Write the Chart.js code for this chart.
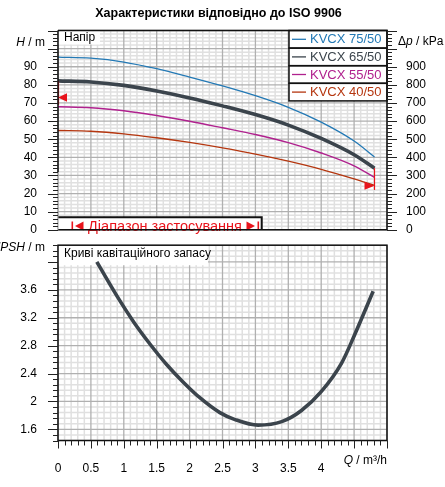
<!DOCTYPE html>
<html><head><meta charset="utf-8">
<script src="https://cdn.jsdelivr.net/npm/chart.js@4.4.1/dist/chart.umd.min.js"></script>
<style>
html,body{margin:0;padding:0;background:#fff;width:445px;height:487px;overflow:hidden;}
#wrap{position:relative;width:445px;height:487px;}
canvas{position:absolute;left:0;}
#c1{top:0}
#c2{top:225px}
</style></head>
<body><div id="wrap"><canvas id="c1" width="445" height="250"></canvas><canvas id="c2" width="445" height="262"></canvas></div>
<script>
// ---------- data ----------
const chartTitle = 'Характеристики відповідно до ISO 9906';
const seriesNames = ['KVCX 75/50', 'KVCX 65/50', 'KVCX 55/50', 'KVCX 40/50'];
const flowQ = [0, 0.5, 1.0, 1.5, 2.0, 2.5, 3.0, 3.5, 4.0, 4.5, 4.81];
const headKVCX75 = [95.3, 94.7, 92.6, 88.9, 84.3, 79.4, 74.0, 67.6, 59.4, 49.0, 40.2];
const headKVCX65 = [82.2, 81.6, 79.7, 76.6, 72.8, 68.4, 63.6, 57.8, 50.4, 41.4, 34.0];
const headKVCX55 = [67.9, 67.4, 65.7, 63.1, 59.9, 56.3, 52.6, 48.1, 42.4, 35.3, 28.9];
const headKVCX40 = [54.8, 54.4, 53.0, 50.8, 48.2, 45.2, 41.8, 37.9, 33.4, 28.1, 24.5];
const npshQ = [0.59, 0.89, 1.15, 1.40, 1.65, 1.90, 2.16, 2.46, 2.69, 3.04, 3.40, 3.70, 4.00, 4.31, 4.51, 4.79];
const npshM = [4.00, 3.52, 3.14, 2.82, 2.53, 2.28, 2.05, 1.84, 1.74, 1.66, 1.71, 1.87, 2.14, 2.55, 2.96, 3.58];
const headTicks = [0, 10, 20, 30, 40, 50, 60, 70, 80, 90];
const pressureTicks = [0, 100, 200, 300, 400, 500, 600, 700, 800, 900];
const npshTicks = [1.6, 2, 2.4, 2.8, 3.2, 3.6];
const flowTicks = [0, 0.5, 1, 1.5, 2, 2.5, 3, 3.5, 4];
// application range limits (Q, H)
const rangeStart = [0, 73];
const rangeEnd = [4.81, 24.3];
const rangeEndLine = [34.0, 22.0];

// ---------- style ----------
const FONT = "'Liberation Sans', Arial, sans-serif";
Chart.defaults.font.family = FONT;
Chart.defaults.font.size = 12;
Chart.defaults.color = '#000';
const colors = ['#2379b5', '#3b444c', '#b0218e', '#b5360f'];
const widths = [1.3, 3.6, 1.4, 1.3];
const RED = '#e8141c';
const GRID_MAJOR = '#b0b0b0', GRID_MINOR = '#e0e0e0';
const near = (a, b) => Math.abs(a - b) < 1e-6;
const isMajorX = v => near(v * 2, Math.round(v * 2));
const isMajorHead = v => near(v / 10, Math.round(v / 10));
const isMajorNpsh = v => near((v - 1.6) / 0.4, Math.round((v - 1.6) / 0.4));

function paintGrid(chart, xs, ys, majX, majY) {
  const ctx = chart.ctx, ca = chart.chartArea;
  ctx.save();
  [false, true].forEach(major => {
    ctx.strokeStyle = major ? GRID_MAJOR : GRID_MINOR;
    ctx.lineWidth = major ? 1.3 : 1.5;
    xs.ticks.forEach(t => {
      if (majX(t.value) !== major) return;
      const p = xs.getPixelForValue(t.value);
      ctx.beginPath(); ctx.moveTo(p, ca.top); ctx.lineTo(p, ca.bottom); ctx.stroke();
    });
    ys.ticks.forEach(t => {
      if (majY(t.value) !== major) return;
      const p = ys.getPixelForValue(t.value);
      ctx.beginPath(); ctx.moveTo(ca.left, p); ctx.lineTo(ca.right, p); ctx.stroke();
    });
  });
  ctx.restore();
}
function drawTicks(ctx, scale, side, isMajor, big, small) {
  ctx.save();
  ctx.strokeStyle = '#222'; ctx.lineWidth = 1;
  scale.ticks.forEach(t => {
    const p = Math.round(scale.getPixelForValue(t.value)) + 0.5;
    const len = isMajor(t.value) ? big : small;
    ctx.beginPath();
    if (side === 'left') { ctx.moveTo(scale.right - len, p); ctx.lineTo(scale.right, p); }
    else if (side === 'right') { ctx.moveTo(scale.left, p); ctx.lineTo(scale.left + len, p); }
    else { ctx.moveTo(p, scale.top); ctx.lineTo(p, scale.top + len); }
    ctx.stroke();
  });
  ctx.restore();
}
function mixedText(ctx, parts, x, y, align, size) {
  ctx.save();
  ctx.textBaseline = 'middle';
  ctx.fillStyle = '#000';
  const fonts = parts.map(p => (p[1] ? 'italic ' : '') + (size || 12) + 'px ' + FONT);
  let total = 0;
  parts.forEach((p, i) => { ctx.font = fonts[i]; total += ctx.measureText(p[0]).width; });
  let cx = align === 'right' ? x - total : x;
  ctx.textAlign = 'left';
  parts.forEach((p, i) => { ctx.font = fonts[i]; ctx.fillText(p[0], cx, y); cx += ctx.measureText(p[0]).width; });
  ctx.restore();
}
function tri(ctx, xTip, y, dir, w, h, color) {
  ctx.save(); ctx.fillStyle = color; ctx.beginPath();
  ctx.moveTo(xTip, y); ctx.lineTo(xTip - dir * w, y - h / 2); ctx.lineTo(xTip - dir * w, y + h / 2);
  ctx.closePath(); ctx.fill(); ctx.restore();
}

// ---------- top chart ----------
const headSeries = [headKVCX75, headKVCX65, headKVCX55, headKVCX40];
const decorTop = {
  id: 'decorTop',
  beforeDatasetsDraw(chart) {
    const ctx = chart.ctx, ca = chart.chartArea;
    paintGrid(chart, chart.scales.x, chart.scales.y, isMajorX, isMajorHead);
    ctx.save();
    ctx.fillStyle = '#fff';
    ctx.fillRect(ca.left, ca.top, 42, 14);
    ctx.fillStyle = '#000'; ctx.font = '12px ' + FONT; ctx.textBaseline = 'middle'; ctx.textAlign = 'left';
    ctx.fillText('Напір', ca.left + 6, ca.top + 7.5);
    ctx.restore();
  },
  afterDatasetsDraw(chart) {
    const {ctx, chartArea: ca, scales: {x, y}} = chart;
    ctx.save();
    ctx.strokeStyle = RED; ctx.lineWidth = 1.2;
    const xe = x.getPixelForValue(rangeEnd[0]);
    ctx.beginPath(); ctx.moveTo(xe, y.getPixelForValue(rangeEndLine[0])); ctx.lineTo(xe, y.getPixelForValue(rangeEndLine[1])); ctx.stroke();
    tri(ctx, xe, y.getPixelForValue(rangeEnd[1]), 1, 10, 8, RED);
    const xs = x.getPixelForValue(rangeStart[0]);
    ctx.beginPath(); ctx.moveTo(xs + 0.5, y.getPixelForValue(82)); ctx.lineTo(xs + 0.5, y.getPixelForValue(69)); ctx.stroke();
    tri(ctx, xs, y.getPixelForValue(rangeStart[1]), -1, 9, 8.5, RED);
    const lx0 = 289, lx1 = ca.right, rh = 17.6;
    ctx.fillStyle = '#fff'; ctx.fillRect(lx0, ca.top, lx1 - lx0, rh * 4);
    chart.data.datasets.forEach((d, i) => {
      const yc = ca.top + rh * i + rh / 2;
      ctx.strokeStyle = d.borderColor; ctx.lineWidth = 1.3;
      ctx.beginPath(); ctx.moveTo(292, yc); ctx.lineTo(306, yc); ctx.stroke();
      ctx.fillStyle = d.borderColor; ctx.font = '13px ' + FONT; ctx.textBaseline = 'middle'; ctx.textAlign = 'left';
      ctx.fillText(d.label, 310, yc + 0.5);
    });
    ctx.strokeStyle = '#111'; ctx.lineWidth = 1.5;
    for (let i = 0; i < 4; i++) ctx.strokeRect(lx0, ca.top + rh * i, lx1 - lx0, rh);
    const bx1 = 261.7, by0 = 217.3;
    ctx.fillStyle = '#fff'; ctx.fillRect(ca.left, by0, bx1 - ca.left, ca.bottom - by0);
    ctx.strokeStyle = '#111'; ctx.lineWidth = 2;
    ctx.beginPath(); ctx.moveTo(ca.left, by0); ctx.lineTo(bx1, by0); ctx.lineTo(bx1, ca.bottom); ctx.stroke();
    ctx.strokeStyle = RED; ctx.lineWidth = 1.6;
    ctx.beginPath(); ctx.moveTo(72.3, 221.5); ctx.lineTo(72.3, ca.bottom); ctx.moveTo(258.3, 221.5); ctx.lineTo(258.3, ca.bottom); ctx.stroke();
    tri(ctx, 75, 226, -1, 8.5, 9, RED);
    tri(ctx, 255, 226, 1, 8.5, 9, RED);
    ctx.fillStyle = RED; ctx.font = '14.5px ' + FONT; ctx.textAlign = 'center'; ctx.textBaseline = 'middle';
    ctx.fillText('Діапазон застосування', 165, 226.5);
    ctx.restore();
  },
  afterDraw(chart) {
    const {ctx, chartArea: ca, scales: {y, y2}} = chart;
    ctx.save();
    ctx.strokeStyle = '#111'; ctx.lineWidth = 1.5;
    ctx.beginPath();
    ctx.moveTo(ca.left, ca.top); ctx.lineTo(ca.right, ca.top); ctx.lineTo(ca.right, ca.bottom); ctx.lineTo(ca.left, ca.bottom);
    ctx.moveTo(ca.left, ca.top); ctx.lineTo(ca.left, 172);
    ctx.stroke();
    ctx.strokeStyle = '#9a9a9a'; ctx.lineWidth = 1;
    ctx.beginPath(); ctx.moveTo(ca.left, 172); ctx.lineTo(ca.left, ca.bottom); ctx.stroke();
    ctx.restore();
    drawTicks(ctx, y, 'left', isMajorHead, 10, 5);
    drawTicks(ctx, y2, 'right', v => near(v / 100, Math.round(v / 100)), 10, 5);
    mixedText(ctx, [['H', true], [' / m', false]], 45, 43, 'right');
    mixedText(ctx, [['Δ', false], ['p', true], [' / kPa', false]], 398, 42, 'left');
    ctx.save();
    ctx.font = 'bold 12.5px ' + FONT; ctx.fillStyle = '#000'; ctx.textAlign = 'center'; ctx.textBaseline = 'middle';
    ctx.fillText(chartTitle, 218.5, 14);
    ctx.restore();
  }
};

new Chart(document.getElementById('c1'), {
  type: 'line',
  data: {
    datasets: headSeries.map((s, i) => ({
      label: seriesNames[i],
      data: flowQ.map((q, j) => ({x: q, y: s[j]})),
      borderColor: colors[i], backgroundColor: colors[i], borderWidth: widths[i],
      pointRadius: 0, cubicInterpolationMode: 'monotone', fill: false
    }))
  },
  options: {
    responsive: false, animation: false, events: [],
    layout: {padding: {top: 30.5, bottom: 15, left: 0, right: 0}},
    plugins: {legend: {display: false}, tooltip: {enabled: false}, title: {display: false}},
    scales: {
      x: {type: 'linear', position: 'bottom', min: 0, max: 5,
          ticks: {display: false, stepSize: 0.1},
          grid: {display: false}, border: {display: false},
          afterFit: s => { s.height = 0; }},
      y: {type: 'linear', position: 'left', min: 0, max: 110,
          ticks: {stepSize: 2, autoSkip: false, padding: 13,
                  callback: v => headTicks.some(t => near(t, v)) ? String(v) : ''},
          grid: {display: false}, border: {display: false},
          afterFit: s => { s.width = 58; }},
      y2: {type: 'linear', position: 'right', min: 0, max: 1100,
          ticks: {stepSize: 20, autoSkip: false, padding: 11,
                  callback: v => pressureTicks.some(t => near(t, v)) ? String(v) : ''},
          grid: {display: false}, border: {display: false},
          afterFit: s => { s.width = 58; }}
    }
  },
  plugins: [decorTop]
});

// ---------- bottom chart ----------
const decorBottom = {
  id: 'decorBottom',
  beforeDatasetsDraw(chart) {
    const ctx = chart.ctx, ca = chart.chartArea;
    paintGrid(chart, chart.scales.x, chart.scales.y, isMajorX, isMajorNpsh);
    ctx.save();
    ctx.fillStyle = '#fff'; ctx.fillRect(ca.left, ca.top, 150, 20);
    ctx.fillStyle = '#000'; ctx.font = '12px ' + FONT; ctx.textBaseline = 'middle'; ctx.textAlign = 'left';
    ctx.fillText('Криві кавітаційного запасу', ca.left + 6, ca.top + 8);
    ctx.restore();
  },
  afterDraw(chart) {
    const {ctx, chartArea: ca, scales: {x, y}} = chart;
    ctx.save();
    ctx.strokeStyle = '#111'; ctx.lineWidth = 1.5;
    ctx.strokeRect(ca.left, ca.top, ca.right - ca.left, ca.bottom - ca.top);
    ctx.restore();
    drawTicks(ctx, y, 'left', isMajorNpsh, 10, 5);
    drawTicks(ctx, x, 'bottom', isMajorX, 8, 5);
    mixedText(ctx, [['NPSH', true], [' / m', false]], 45, 22.7, 'right', 12);
    mixedText(ctx, [['Q', true], [' / m³/h', false]], 387, 235.5, 'right');
  }
};

new Chart(document.getElementById('c2'), {
  type: 'line',
  data: {
    datasets: [{
      label: 'NPSH',
      data: npshQ.map((q, j) => ({x: q, y: npshM[j]})),
      borderColor: '#3b444c', borderWidth: 3.6, pointRadius: 0,
      cubicInterpolationMode: 'monotone', fill: false
    }]
  },
  options: {
    responsive: false, animation: false, events: [],
    layout: {padding: {top: 10, bottom: 0, left: 0, right: 58}},
    plugins: {legend: {display: false}, tooltip: {enabled: false}},
    scales: {
      x: {type: 'linear', position: 'bottom', min: 0, max: 5,
          ticks: {stepSize: 0.1, autoSkip: false, maxRotation: 0, minRotation: 0, padding: 13,
                  callback: v => flowTicks.some(t => near(t, v)) ? String(v) : ''},
          grid: {display: false}, border: {display: false},
          afterFit: s => { s.height = 46.5; }},
      y: {type: 'linear', position: 'left', min: 1.44, max: 4.24,
          ticks: {stepSize: 0.08, autoSkip: false, padding: 13,
                  callback: v => npshTicks.some(t => near(t, v)) ? String(Math.round(v * 10) / 10) : ''},
          grid: {display: false}, border: {display: false},
          afterFit: s => { s.width = 58; }}
    }
  },
  plugins: [decorBottom]
});
</script>
</body></html>
